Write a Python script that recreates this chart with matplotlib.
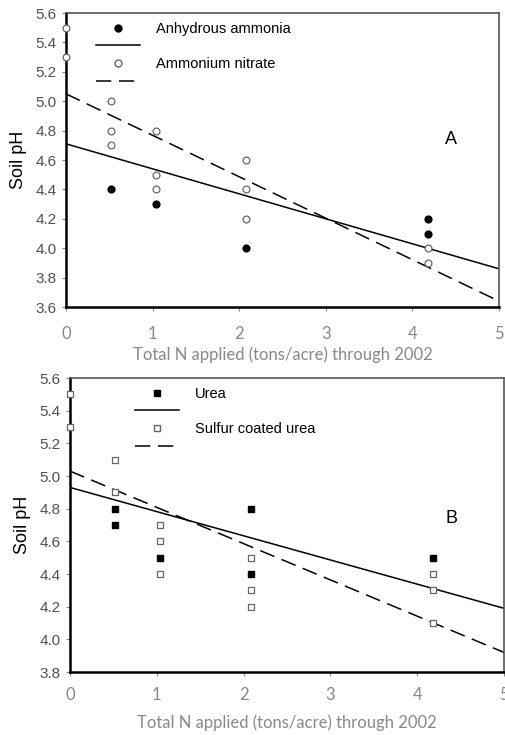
import numpy as np
import matplotlib.pyplot as plt
from matplotlib.lines import Line2D

# Panel A data
aa_x = [0.52, 1.04, 2.08, 4.18, 4.18]
aa_y = [4.4, 4.3, 4.0, 4.2, 4.1]
an_x = [0, 0, 0.52, 0.52, 0.52, 1.04, 1.04, 1.04, 2.08, 2.08, 2.08, 4.18, 4.18]
an_y = [5.5, 5.3, 5.0, 4.8, 4.7, 4.8, 4.5, 4.4, 4.6, 4.4, 4.2, 4.0, 3.9]
aa_fit = [4.71, 3.86]   # value at x=0 and x=5
an_fit = [5.05, 3.64]

# Panel B data
ur_x = [0.52, 0.52, 1.04, 2.08, 2.08, 4.18]
ur_y = [4.8, 4.7, 4.5, 4.8, 4.4, 4.5]
scu_x = [0, 0, 0.52, 0.52, 1.04, 1.04, 1.04, 2.08, 2.08, 2.08, 4.18, 4.18, 4.18]
scu_y = [5.5, 5.3, 5.1, 4.9, 4.7, 4.6, 4.4, 4.5, 4.3, 4.2, 4.4, 4.3, 4.1]
ur_fit = [4.93, 4.19]
scu_fit = [5.03, 3.92]

fit_x = [0, 5]
xlabel = 'Total N applied (tons/acre) through 2002'

fig = plt.figure(figsize=(5.05, 7.35), dpi=100)
axA = fig.add_axes([0.1307, 0.5823, 0.8574, 0.40])
axB = fig.add_axes([0.1386, 0.0857, 0.8594, 0.40])


def style(ax, ylo, yhi, yticks, xpad, xlabelpad):
    ax.set_xlim(0, 5)
    ax.set_ylim(ylo, yhi)
    ax.set_yticks(yticks)
    ax.set_yticklabels(['%.1f' % v for v in yticks], fontsize=11,
                       family='Liberation Sans', color='#505050')
    ax.set_xticks(range(6))
    ax.set_xticklabels([str(i) for i in range(6)], fontsize=12,
                       family='Lato', color='#888888')
    ax.tick_params(axis='x', length=3, color='#888888', pad=xpad)
    ax.tick_params(axis='y', length=3, color='#888888', pad=4)
    ax.spines['left'].set_linewidth(1.8)
    ax.spines['bottom'].set_linewidth(1.8)
    ax.spines['top'].set_color('#555555')
    ax.spines['right'].set_color('#555555')
    ax.spines['top'].set_linewidth(1.2)
    ax.spines['right'].set_linewidth(1.2)
    ax.set_ylabel('Soil pH', fontsize=13, family='Liberation Sans', labelpad=6)
    ax.set_xlabel(xlabel, fontsize=12, family='Lato', color='#888888',
                  labelpad=xlabelpad)


def legend(ax, handles, labels, x0):
    ax.legend(handles, labels, loc='upper left', bbox_to_anchor=(x0, 1.0),
              frameon=False, handlelength=3.0, labelspacing=0.25,
              borderaxespad=0.2, handletextpad=1.1,
              prop={'family': 'Liberation Sans', 'size': 10.5})


# ---- Panel A ----
axA.plot(fit_x, aa_fit, color='black', lw=1.1)
axA.plot(fit_x, an_fit, color='black', lw=1.1, dashes=(10, 5))
axA.scatter(aa_x, aa_y, s=24, color='black', zorder=3, clip_on=False)
axA.scatter(an_x, an_y, s=24, facecolor='white', edgecolor='#666666', lw=0.9,
            zorder=3, clip_on=False)
style(axA, 3.6, 5.6, np.arange(3.6, 5.61, 0.2), 11, 3)
axA.text(4.45, 4.74, 'A', fontsize=13, family='Liberation Sans', ha='center', va='center')

hA = [Line2D([], [], ls='none', marker='o', ms=5, color='black'),
      Line2D([], [], color='black', lw=1.1),
      Line2D([], [], ls='none', marker='o', ms=5, mfc='white', mec='#666666'),
      Line2D([], [], color='black', lw=1.1, dashes=(10, 5))]
legend(axA, hA, ['Anhydrous ammonia', ' ', 'Ammonium nitrate', ' '], 0.05)

# ---- Panel B ----
axB.plot(fit_x, ur_fit, color='black', lw=1.1)
axB.plot(fit_x, scu_fit, color='black', lw=1.1, dashes=(10, 5))
axB.scatter(ur_x, ur_y, s=22, marker='s', color='black', zorder=3, clip_on=False)
axB.scatter(scu_x, scu_y, s=22, marker='s', facecolor='white', edgecolor='#666666',
            lw=0.9, zorder=3, clip_on=False)
style(axB, 3.8, 5.6, np.arange(3.8, 5.61, 0.2), 8, 8)
axB.text(4.39, 4.74, 'B', fontsize=13, family='Liberation Sans', ha='center', va='center')

hB = [Line2D([], [], ls='none', marker='s', ms=5, color='black'),
      Line2D([], [], color='black', lw=1.1),
      Line2D([], [], ls='none', marker='s', ms=5, mfc='white', mec='#666666'),
      Line2D([], [], color='black', lw=1.1, dashes=(10, 5))]
legend(axB, hB, ['Urea', ' ', 'Sulfur coated urea', ' '], 0.13)

fig.savefig('out.png', dpi=100)
